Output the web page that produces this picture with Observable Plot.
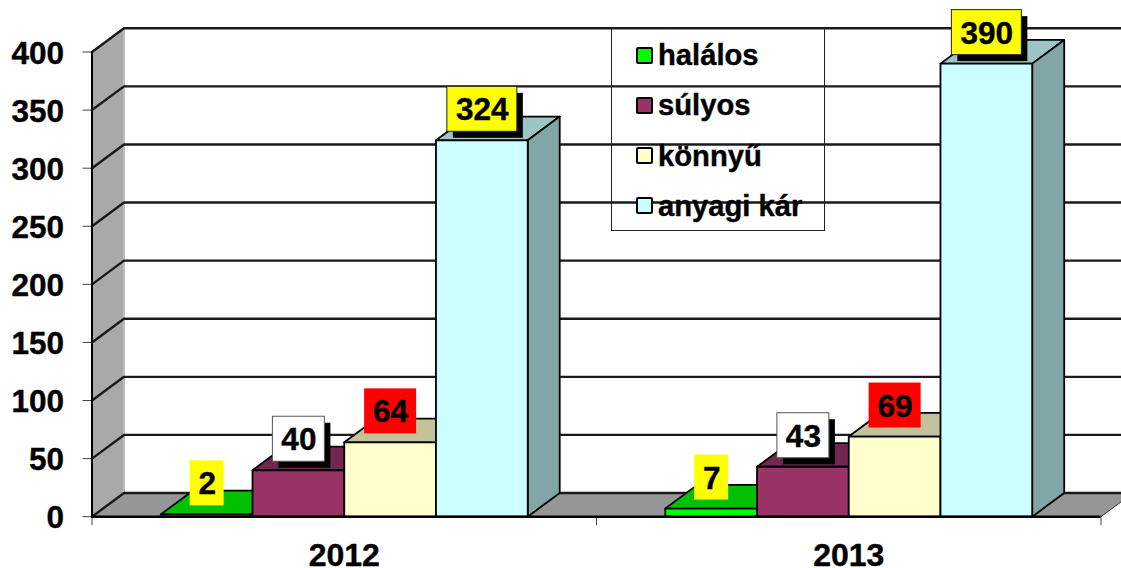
<!DOCTYPE html>
<html>
<head>
<meta charset="utf-8">
<script src="https://cdn.jsdelivr.net/npm/d3@7"></script>
<script src="https://cdn.jsdelivr.net/npm/@observablehq/plot@0.6"></script>
<style>
  html, body { margin: 0; padding: 0; background: #fff; overflow: hidden; }
  #wrap { position: relative; width: 1121px; height: 568px; font-family: "Liberation Sans", Arial, sans-serif; }
  #wrap svg { display: block; }
  #legend { position: absolute; left: 611px; top: 28px; width: 214px; height: 202.5px; border: 1px solid #222; box-sizing: border-box; }
  .item { position: absolute; left: 24px; height: 32px; display: flex; align-items: center; font-weight: bold; font-size: 29.2px; line-height: 32px; color: #000; white-space: nowrap; -webkit-text-stroke: 0.4px #000; }
  .swatch { width: 17px; height: 17px; box-sizing: border-box; border: 2px solid #000; border-radius: 2px; margin-right: 5px; }
</style>
</head>
<body>
<div id="wrap"></div>
<script>
// Data
const years = ["2012", "2013"];
const categories = ["halálos", "súlyos", "könnyű", "anyagi kár"];
const halalos = [2, 7];
const sulyos = [40, 43];
const konnyu = [64, 69];
const anyagi = [324, 390];
const yTicks = [0, 50, 100, 150, 200, 250, 300, 350, 400];

// Styling
const front = ["#00ff00", "#993366", "#ffffcc", "#ccffff"];
const top_ = ["#00c000", "#732650", "#c2c29b", "#9cc6c6"];
const side = ["#008000", "#5c1f3d", "#a0a080", "#82a5a5"];
const boxFill = ["#ffff00", "#ffffff", "#ff0000", "#ffff00"];
const boxStroke = ["none", "#555", "none", "#222"];
const boxShadow = [false, true, false, true];

// Layout constants (pixels → data units through the plot's frame)
const W = 1121, H = 568, mL = 91.5, mR = 20.5, mT = 51.5, mB = 51.8;
const pxX = (W - mL - mR) / 2, pxY = (H - mT - mB) / 400;
const depthX = 32 / pxX, depthY = 23.7 / pxY;
const barW = 1 / 5.5, gapW = 0.75 / 5.5;

const series = [halalos, sulyos, konnyu, anyagi];

const face = (pts, fill, sw = 1.8, stroke = "#000") =>
  Plot.line(pts, {x: "x", y: "y", fill, stroke, strokeWidth: sw, curve: "linear-closed", strokeLinejoin: "round"});
const P = (x, y) => ({x, y});

const marks = [];

// Left wall and floor
marks.push(face([P(0, 0), P(depthX, depthY), P(depthX, 400 + depthY), P(0, 400)], "#a9a9a9", 0, "none"));
marks.push(face([P(0, 0), P(depthX, depthY), P(2 + depthX, depthY), P(2, 0)], "#969696", 1, "#333"));
marks.push(Plot.line([P(depthX, 0 + depthY), P(depthX, 400 + depthY)], {x: "x", y: "y", stroke: "#bdbdbd", strokeWidth: 2}));

// Gridlines on wall and back
for (const v of yTicks) {
  marks.push(Plot.line([P(0, v), P(depthX, v + depthY), P(2.1, v + depthY)], {x: "x", y: "y", stroke: "#1a1a1a", strokeWidth: 2.4}));
}

// Bars
years.forEach((yr, g) => {
  series.forEach((vals, k) => {
    const v = vals[g];
    const x0 = g + gapW + k * barW, x1 = x0 + barW;
    marks.push(face([P(x0, v), P(x0 + depthX, v + depthY), P(x1 + depthX, v + depthY), P(x1, v)], top_[k]));
    marks.push(face([P(x1, 0), P(x1 + depthX, depthY), P(x1 + depthX, v + depthY), P(x1, v)], side[k]));
    marks.push(face([P(x0, 0), P(x0, v), P(x1, v), P(x1, 0)], front[k]));
  });
});

// Axes
const heavy = {textStroke: "#000", textStrokeWidth: 0.4, fill: "#000", fontWeight: "bold", label: null};
marks.push(Plot.axisY({ticks: yTicks, tickSize: 9, stroke: "#444", label: null, tickFormat: () => ""}));
marks.push(Plot.axisY({ticks: yTicks, tickSize: 0, tickPadding: 28, fontSize: 31.5, dy: 1.5, tickFormat: d => String(d), ...heavy}));
marks.push(Plot.axisX({ticks: [0, 1, 2], tickSize: 9, stroke: "#444", tickFormat: () => "", label: null}));
marks.push(Plot.axisX({ticks: [0.5, 1.5], tickSize: 0, tickPadding: 27, fontSize: 32, tickFormat: d => years[Math.floor(d)], ...heavy}));
marks.push(Plot.ruleX([0], {y1: 0, y2: 400, stroke: "#000", strokeWidth: 2}));
marks.push(Plot.ruleY([0], {x1: 0, x2: 2, stroke: "#000", strokeWidth: 2.4}));

// Value labels
years.forEach((yr, g) => {
  series.forEach((vals, k) => {
    const v = vals[g];
    const xc = g + gapW + (k + 0.5) * barW + 0.5 / pxX;
    const txt = String(v);
    const w = (16 + 18 * txt.length) / pxX;
    const box = [{x1: xc - w / 2, x2: xc + w / 2, y1: v + 8.5 / pxY, y2: v + 53.5 / pxY}];
    if (boxShadow[k]) marks.push(Plot.rect(box, {x1: "x1", x2: "x2", y1: "y1", y2: "y2", fill: "#000", dx: 6, dy: 6.5}));
    marks.push(Plot.rect(box, {x1: "x1", x2: "x2", y1: "y1", y2: "y2", fill: boxFill[k], stroke: boxStroke[k], strokeWidth: 1}));
    marks.push(Plot.text([{x: xc, y: v, t: txt}], {x: "x", y: "y", text: "t", dy: -30, fontSize: 31.5, fontWeight: "bold", fill: "#000", stroke: "#000", strokeWidth: 0.4}));
  });
});

const chart = Plot.plot({
  width: W, height: H,
  marginLeft: mL, marginRight: mR, marginTop: mT, marginBottom: mB,
  style: {background: "transparent", fontFamily: '"Liberation Sans", Arial, sans-serif', overflow: "hidden"},
  x: {type: "linear", domain: [0, 2]},
  y: {type: "linear", domain: [0, 400]},
  marks
});
const wrap = document.getElementById("wrap");
wrap.appendChild(chart);

// Legend over the chart, transparent so the gridlines show through
const legend = document.createElement("div");
legend.id = "legend";
categories.forEach((c, i) => {
  const it = document.createElement("div");
  it.className = "item";
  it.style.top = (10 + 50.3 * i) + "px";
  const s = document.createElement("span");
  s.className = "swatch";
  s.style.background = front[i];
  const t = document.createElement("span");
  t.textContent = c;
  it.append(s, t);
  legend.appendChild(it);
});
wrap.appendChild(legend);
</script>
</body>
</html>
